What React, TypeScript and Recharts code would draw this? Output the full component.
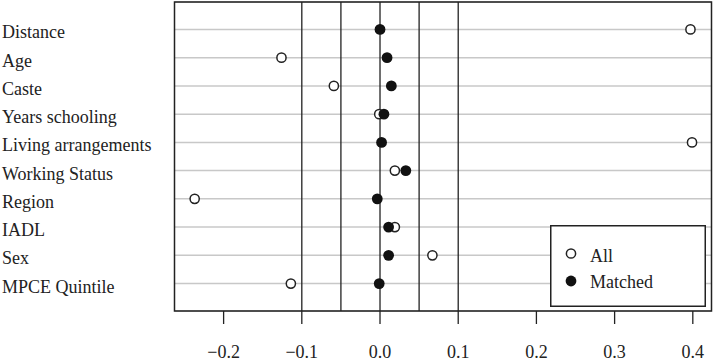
import React from 'react';
import {
  ComposedChart,
  Scatter,
  XAxis,
  YAxis,
  CartesianGrid,
  ReferenceLine,
  ReferenceArea,
  Legend,
} from 'recharts';

const categories = [
  'Distance',
  'Age',
  'Caste',
  'Years schooling',
  'Living arrangements',
  'Working Status',
  'Region',
  'IADL',
  'Sex',
  'MPCE Quintile',
];
const allValues = [0.397, -0.126, -0.059, -0.001, 0.399, 0.019, -0.237, 0.019, 0.067, -0.114];
const matchedValues = [0.0, 0.009, 0.0145, 0.005, 0.002, 0.033, -0.0035, 0.011, 0.011, -0.001];
const xTicks = [-0.2, -0.1, 0.0, 0.1, 0.2, 0.3, 0.4];
const thresholds = [-0.1, -0.05, 0, 0.05, 0.1];
const rowTicks = categories.map((_, i) => categories.length - i);

const X_DOMAIN: [number, number] = [-0.2628, 0.4239];
const Y_DOMAIN: [number, number] = [0.03, 10.97];
const INK = '#222';
const FONT = '"Liberation Serif", "Times New Roman", serif';

const allData = categories.map((name, i) => ({ name, y: categories.length - i, x: allValues[i] }));
const matchedData = categories.map((name, i) => ({ name, y: categories.length - i, x: matchedValues[i] }));

const fmt = (v: number) => v.toFixed(1).replace('-', '\u2212');

const RowLabel = (props: any) => {
  const { y, payload } = props;
  const label = categories[categories.length - payload.value];
  return (
    <text x={2} y={y + 9} textAnchor="start" fontSize={18} fill={INK} fontFamily={FONT}>
      {label}
    </text>
  );
};

const OpenDot = (props: any) => (
  <circle cx={props.cx} cy={props.cy} r={4.6} fill="#fff" stroke={INK} strokeWidth={1.5} />
);
const FilledDot = (props: any) => (
  <circle cx={props.cx} cy={props.cy} r={5.4} fill="#111" stroke="none" />
);

const LegendBox = () => (
  <svg width={156} height={82} style={{ fontFamily: FONT }}>
    <rect x={0.75} y={0.75} width={154.5} height={80.5} fill="#fff" stroke={INK} strokeWidth={1.5} />
    <circle cx={21} cy={28.5} r={4.6} fill="#fff" stroke={INK} strokeWidth={1.5} />
    <text x={40} y={36.5} fontSize={18} fill={INK}>All</text>
    <circle cx={21} cy={56} r={5.4} fill="#111" />
    <text x={40} y={62.5} fontSize={18} fill={INK}>Matched</text>
  </svg>
);

export default function App() {
  return (
    <div
      style={{
        position: 'absolute',
        left: 0,
        top: 0,
        width: 713,
        height: 361,
        background: '#fff',
        fontFamily: FONT,
      }}
    >
      <ComposedChart
        width={713}
        height={361}
        margin={{ top: 2, right: 1.5, bottom: 0, left: 0 }}
        style={{ fontFamily: FONT }}
      >
        <CartesianGrid vertical={false} stroke="#c8c8c8" strokeWidth={1.5} />
        <XAxis
          type="number"
          dataKey="x"
          domain={X_DOMAIN}
          ticks={xTicks}
          allowDataOverflow
          height={50}
          axisLine={false}
          tickLine={{ stroke: INK, strokeWidth: 1.3 }}
          tickSize={13}
          tickMargin={21}
          tick={{ fontSize: 18, fill: INK, fontFamily: FONT }}
          tickFormatter={fmt}
        />
        <YAxis
          type="number"
          dataKey="y"
          domain={Y_DOMAIN}
          ticks={rowTicks}
          allowDataOverflow
          width={174.5}
          axisLine={false}
          tickLine={false}
          tick={<RowLabel />}
        />
        {thresholds.map((t) => (
          <ReferenceLine key={t} x={t} stroke={INK} strokeWidth={1.3} />
        ))}
        <Scatter name="All" data={allData} shape={<OpenDot />} isAnimationActive={false} />
        <Scatter name="Matched" data={matchedData} shape={<FilledDot />} isAnimationActive={false} />
        <ReferenceArea
          x1={X_DOMAIN[0]}
          x2={X_DOMAIN[1]}
          y1={Y_DOMAIN[0]}
          y2={Y_DOMAIN[1]}
          fill="none"
          fillOpacity={0}
          stroke={INK}
          strokeWidth={1.5}
          ifOverflow="visible"
        />
        <Legend
          layout="vertical"
          align="center"
          verticalAlign="middle"
          content={<LegendBox />}
          wrapperStyle={{ left: 550, top: 225, width: 156, height: 82 }}
        />
      </ComposedChart>
    </div>
  );
}
